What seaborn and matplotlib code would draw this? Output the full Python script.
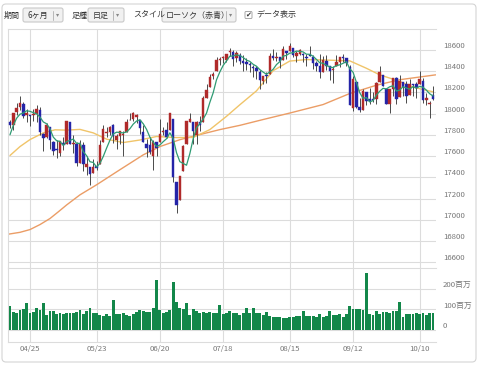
import numpy as np
import pandas as pd
import matplotlib
matplotlib.use("Agg")
import matplotlib.pyplot as plt
import seaborn as sns
from matplotlib.patches import FancyBboxPatch
from matplotlib.lines import Line2D
from matplotlib.transforms import IdentityTransform, offset_copy, blended_transform_factory

# ---------------- data ----------------
holidays = ["2016-05-30", "2016-07-04", "2016-09-05"]
trade_dates = pd.bdate_range("2016-04-15", "2016-10-14", freq="C", holidays=holidays)

opens = [17925, 17890, 18012, 18059, 18094, 17986, 17990, 17987, 17996, 18039,
         17813, 17783, 17870, 17735, 17664, 17631, 17721, 17711, 17920, 17718,
         17719, 17531, 17704, 17502, 17501, 17437, 17507, 17525, 17735, 17820,
         17826, 17891, 17754, 17790, 17799, 17826, 17936, 17952, 17969, 17938,
         17830, 17710, 17703, 17602, 17734, 17736, 17827, 17844, 17844, 17946,
         17355, 17190, 17456, 17712, 17924, 17924, 17800, 17925, 17924, 18146,
         18247, 18359, 18400, 18508, 18525, 18503, 18582, 18582, 18524, 18554,
         18497, 18490, 18463, 18442, 18434, 18394, 18312, 18355, 18378, 18545,
         18522, 18531, 18505, 18591, 18594, 18618, 18547, 18567, 18558, 18532,
         18555, 18535, 18475, 18450, 18396, 18498, 18453, 18407, 18452, 18491,
         18538, 18521, 18440, 18050, 18300, 18066, 18030, 18200, 18140, 18140,
         18134, 18302, 18360, 18228, 18093, 18229, 18339, 18160, 18300, 18280,
         18176, 18270, 18280, 18282, 18308, 18133, 18088, 18177]
highs = [17939, 18009, 18103, 18167, 18107, 18044, 17990, 18043, 18084, 18066,
         17814, 17912, 17870, 17738, 17755, 17744, 17780, 17934, 17920, 17803,
         17732, 17755, 17737, 17602, 17501, 17571, 17550, 17755, 17891, 17877,
         17880, 17899, 17809, 17838, 17833, 17949, 18003, 18016, 17993, 17938,
         17893, 17762, 17783, 17754, 17734, 17946, 17877, 17920, 18011, 17946,
         17355, 17409, 17704, 17930, 18002, 17924, 17931, 17975, 18163, 18283,
         18371, 18389, 18536, 18537, 18542, 18562, 18622, 18604, 18589, 18573,
         18554, 18527, 18484, 18461, 18452, 18416, 18357, 18393, 18576, 18608,
         18583, 18534, 18638, 18591, 18668, 18618, 18587, 18610, 18575, 18564,
         18635, 18550, 18500, 18565, 18541, 18557, 18453, 18445, 18550, 18538,
         18564, 18521, 18460, 18358, 18300, 18150, 18237, 18200, 18242, 18200,
         18300, 18449, 18362, 18228, 18236, 18339, 18341, 18365, 18300, 18311,
         18327, 18284, 18303, 18399, 18334, 18193, 18124, 18261]
lows = [17863, 17848, 17984, 18031, 17963, 17925, 17884, 17934, 17920, 17800,
        17651, 17773, 17670, 17609, 17580, 17602, 17654, 17711, 17711, 17626,
        17511, 17531, 17459, 17420, 17331, 17437, 17472, 17525, 17735, 17781,
        17801, 17724, 17664, 17719, 17603, 17826, 17936, 17935, 17915, 17812,
        17731, 17595, 17622, 17471, 17602, 17736, 17799, 17770, 17844, 17356,
        17063, 17190, 17456, 17711, 17917, 17714, 17713, 17834, 17924, 18146,
        18247, 18325, 18400, 18458, 18476, 18488, 18544, 18448, 18485, 18467,
        18402, 18411, 18392, 18345, 18325, 18233, 18279, 18285, 18378, 18508,
        18499, 18430, 18505, 18511, 18594, 18533, 18487, 18553, 18491, 18445,
        18542, 18424, 18403, 18336, 18396, 18411, 18318, 18289, 18452, 18443,
        18487, 18448, 18085, 18028, 18054, 18016, 18030, 18079, 18095, 18110,
        18087, 18302, 18257, 18090, 18009, 18164, 18090, 18160, 18169, 18104,
        18176, 18169, 18146, 18282, 18096, 18082, 17959, 18127]
closes = [17897, 18004, 18053, 18096, 17982, 18003, 17977, 17990, 18041, 17830,
          17773, 17891, 17750, 17651, 17660, 17740, 17705, 17928, 17711, 17720,
          17535, 17710, 17530, 17526, 17435, 17500, 17492, 17706, 17851, 17828,
          17873, 17787, 17789, 17838, 17807, 17920, 17938, 18005, 17985, 17865,
          17732, 17674, 17640, 17733, 17675, 17804, 17829, 17780, 18011, 17400,
          17140, 17409, 17694, 17929, 17949, 17840, 17918, 17895, 18146, 18226,
          18347, 18372, 18506, 18516, 18533, 18559, 18595, 18517, 18570, 18493,
          18473, 18472, 18456, 18432, 18404, 18313, 18355, 18352, 18543, 18529,
          18533, 18495, 18613, 18576, 18636, 18552, 18573, 18597, 18552, 18529,
          18547, 18481, 18448, 18395, 18502, 18454, 18400, 18419, 18491, 18538,
          18526, 18479, 18085, 18325, 18066, 18034, 18212, 18123, 18120, 18129,
          18293, 18392, 18261, 18094, 18228, 18339, 18143, 18308, 18253, 18168,
          18281, 18268, 18240, 18329, 18128, 18144, 18098, 18138]
prior_closes = [17556, 17721, 17908, 17926]

volume_m = [117, 89, 84, 97, 100, 130, 81, 89, 105, 97,
            133, 73, 94, 92, 78, 81, 78, 84, 84, 84,
            89, 97, 76, 92, 108, 84, 81, 73, 70, 76,
            68, 146, 76, 76, 81, 73, 68, 76, 89, 97,
            92, 89, 89, 105, 243, 97, 84, 89, 97, 235,
            135, 108, 102, 130, 73, 100, 92, 84, 89, 81,
            89, 84, 84, 122, 76, 84, 92, 84, 84, 73,
            84, 108, 81, 108, 81, 84, 73, 89, 70, 62,
            62, 65, 60, 60, 62, 65, 68, 68, 92, 70,
            70, 70, 62, 76, 65, 70, 94, 73, 73, 78,
            65, 76, 118, 102, 102, 102, 97, 275, 76, 73,
            92, 76, 89, 86, 81, 94, 94, 135, 65, 76,
            76, 78, 81, 76, 84, 73, 81, 84]

ma25_pos = [0, 3, 6, 10, 13.5, 17, 21, 25, 29, 34, 39, 44, 50, 55, 60, 65, 69,
            74, 79, 84, 89, 94, 102, 107, 111, 116, 121, 127]
ma25_val = [17606, 17690, 17756, 17819, 17848, 17845, 17852, 17819, 17760, 17728, 17752,
            17785, 17775, 17776, 17850, 17975, 18084, 18215, 18405, 18496, 18510,
            18506, 18498, 18428, 18366, 18315, 18250, 18206]
ma75_pos = [-0.6, 3, 6, 9, 12, 14.5, 17, 21, 26, 33, 40, 45, 51, 57, 63, 69, 76,
            84, 94, 102, 110, 117, 127.8]
ma75_val = [16864, 16882, 16908, 16955, 17012, 17075, 17140, 17235, 17330, 17472,
            17612, 17690, 17755, 17803, 17850, 17890, 17945, 18006, 18086, 18190,
            18268, 18320, 18366]

tick_labels = ["04/25", "05/23", "06/20", "07/18", "08/15", "09/12", "10/10"]
price_ticks = [16600, 16800, 17000, 17200, 17400, 17600, 17800, 18000, 18200, 18400, 18600]
vol_ticks = [0, 100, 200]
vol_tick_labels = ["0", "100百万", "200百万"]

# ---------------- style ----------------
sns.set_style("white")
plt.rcParams["font.family"] = ["Noto Sans CJK JP", "DejaVu Sans"]

RED = "#b02a2a"
BLUE = "#2424a8"
WICK = "#4a4a4a"
GRID = "#dcdcdc"
VOLG = "#13874a"
LBL = "#777777"

W, H = 480, 365
fig = plt.figure(figsize=(4.8, 3.65), dpi=100)
fig.patch.set_facecolor("white")

def fx(x):
    return x / W

def fy(y):
    return 1 - y / H

L, R = 8, 436
TOP, MID, BOT = 29, 268.3, 342
ax = fig.add_axes([fx(L), fy(MID), (R - L) / W, (MID - TOP) / H])
axv = fig.add_axes([fx(L), fy(BOT), (R - L) / W, (BOT - MID) / H])

idx = np.arange(len(closes))
o = np.array(opens, float)
c = np.array(closes, float)
hi = np.array(highs, float)
lo = np.array(lows, float)

# moving averages (25 / 75 behind the candles)
sns.lineplot(x=ma75_pos, y=ma75_val, ax=ax, color="#eb9d66", lw=1.0, zorder=2.5)
sns.lineplot(x=ma25_pos, y=ma25_val, ax=ax, color="#f0c469", lw=1.0, zorder=2.5)

# candles
cols = np.where(c >= o, RED, BLUE)
ax.vlines(idx, lo, hi, color=WICK, lw=0.7, zorder=3)
body_bottom = np.minimum(o, c)
body_h = np.maximum(np.abs(c - o), 9)
ax.bar(idx, body_h, bottom=body_bottom, width=0.74, color=cols, edgecolor=cols,
       linewidth=0.3, zorder=3.5)

# 5-day average of closes
ma5 = pd.Series(prior_closes + closes).rolling(5).mean().to_numpy()[len(prior_closes):]
sns.lineplot(x=idx, y=ma5, ax=ax, color="#2f9b73", lw=0.9, zorder=4)

# volume
sns.barplot(x=idx, y=volume_m, native_scale=True, color=VOLG, saturation=1,
            width=0.86, errorbar=None, linewidth=0, ax=axv, zorder=3)

tick_pos = [int(np.where(trade_dates.strftime("%m/%d") == t)[0][0]) for t in tick_labels]

for a in (ax, axv):
    a.set_xlim(-0.6, 127.9)
    a.set_xticks(tick_pos)
    a.grid(True, color=GRID, lw=0.8, zorder=0)
    a.tick_params(left=False, bottom=False, labelleft=False, labelbottom=False)
    a.set_xlabel("")
    a.set_ylabel("")
    a.set_facecolor("white")
    for s in a.spines.values():
        s.set_color(GRID)
        s.set_linewidth(0.8)
    a.spines["right"].set_visible(False)

ax.set_ylim(16543, 18798)
ax.set_yticks(price_ticks)
ax.spines["bottom"].set_visible(False)
axv.set_ylim(-58.3, 300)
axv.set_yticks(vol_ticks)

# right labels
tp = offset_copy(blended_transform_factory(ax.transAxes, ax.transData), fig=fig, x=0, y=4, units="dots")
for v in price_ticks:
    ax.text(1.016, v, str(v), transform=tp, ha="left", va="center", fontsize=5.6, color=LBL)
tv = offset_copy(blended_transform_factory(axv.transAxes, axv.transData), fig=fig, x=0, y=4, units="dots")
for v, t in zip(vol_ticks, vol_tick_labels):
    axv.text(1.016, v, t, transform=tv, ha="left", va="center", fontsize=5.6, color=LBL)
# date labels
td = offset_copy(blended_transform_factory(axv.transData, axv.transAxes), fig=fig, x=0, y=-7, units="dots")
for p, t in zip(tick_pos, tick_labels):
    axv.text(p, 0, t, transform=td, ha="center", va="center", fontsize=5.6, color=LBL)

# ---------------- frame & toolbar ----------------
ident = IdentityTransform()

def box(x0, y0, x1, y1, fc, ec, r=2, lw=0.8):
    p = FancyBboxPatch((x0, H - y1), x1 - x0, y1 - y0,
                       boxstyle=f"round,pad=0,rounding_size={r}",
                       transform=ident, fc=fc, ec=ec, lw=lw, zorder=0)
    fig.add_artist(p)

def vsep(x):
    fig.add_artist(Line2D([x, x], [H - 19.5, H - 10.5], transform=ident,
                          color="#b8b8b8", lw=0.7))

def arrow(x):
    fig.text(fx(x), fy(14.8), "▾", fontsize=4.5, color="#888888", va="center",
             ha="center", family="DejaVu Sans")

box(2, 4, 476, 362, "none", "#d4d4d4", r=4)

TXT = "#333333"
ty = fy(15)
FS = 5.8
fig.text(fx(4), ty, "期間", fontsize=FS, color=TXT, va="center", ha="left")
box(23, 8, 63, 22, "#f1f1f1", "#c9c9c9")
fig.text(fx(28), ty, "6ヶ月", fontsize=FS, color=TXT, va="center", ha="left")
vsep(52.5)
arrow(57.5)

fig.text(fx(72), ty, "足種", fontsize=FS, color=TXT, va="center", ha="left")
box(88, 8, 124, 22, "#f1f1f1", "#c9c9c9")
fig.text(fx(93), ty, "日足", fontsize=FS, color=TXT, va="center", ha="left")
vsep(112.5)
arrow(118)

fig.text(fx(133), ty, "スタイル", fontsize=FS, color=TXT, va="center", ha="left")
box(162, 8, 236, 22, "#f1f1f1", "#c9c9c9")
fig.text(fx(166), ty, "ローソク（赤青）", fontsize=FS, color=TXT, va="center", ha="left")
vsep(226)
arrow(231)

box(245, 11.5, 252, 18.5, "white", "#9a9a9a", r=1, lw=0.6)
fig.text(fx(248.5), fy(15), "✔", fontsize=5, color="#333333", va="center", ha="center",
         family="DejaVu Sans")
fig.text(fx(256), ty, "データ表示", fontsize=FS, color=TXT, va="center", ha="left")

fig.savefig("out.png", dpi=100)
